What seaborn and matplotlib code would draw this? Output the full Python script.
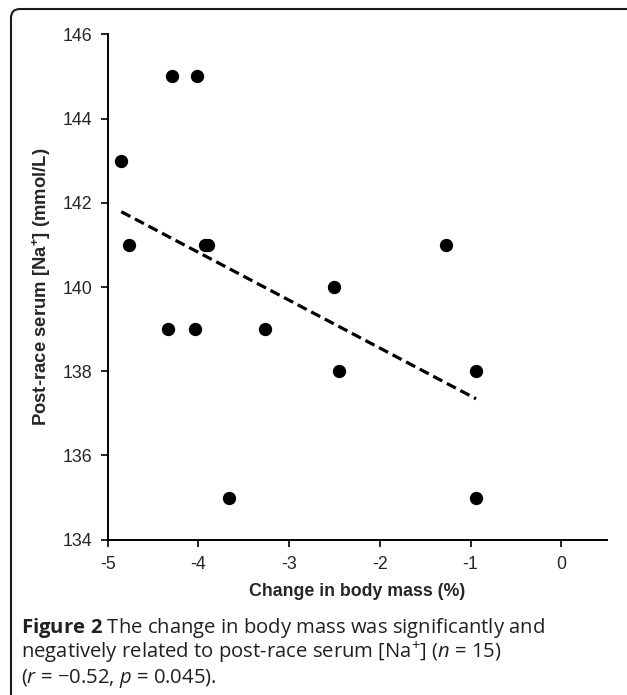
import numpy as np
import pandas as pd
import matplotlib
matplotlib.use("Agg")
import matplotlib.pyplot as plt
import seaborn as sns
from matplotlib.patches import FancyBboxPatch
from matplotlib.transforms import IdentityTransform

# values
mass_change = [-4.85, -4.76, -4.29, -4.02, -3.93, -3.89, -4.33, -4.04,
               -3.66, -3.27, -2.45, -0.94, -0.94, -1.27, -2.51]
serum_na = [143, 141, 145, 145, 141, 141, 139, 139,
            135, 139, 138, 138, 135, 141, 140]
x_ticks = [-5, -4, -3, -2, -1, 0]
y_ticks = [134, 136, 138, 140, 142, 144, 146]

df = pd.DataFrame({"mass": mass_change, "na": serum_na})

sns.set_style("ticks")
plt.rcParams["font.family"] = ["Liberation Sans", "DejaVu Sans"]
plt.rcParams["mathtext.fontset"] = "custom"
plt.rcParams["mathtext.rm"] = "Open Sans"
plt.rcParams["mathtext.it"] = "Open Sans:italic"
plt.rcParams["mathtext.bf"] = "Open Sans:bold"

W, H = 627, 695
fig = plt.figure(figsize=(W / 100, H / 100), dpi=100)
ax = fig.add_axes([107.7 / W, 1 - 539.7 / H, (606.7 - 107.7) / W, (539.7 - 34.3) / H])

sns.regplot(data=df, x="mass", y="na", ax=ax, ci=None, truncate=True,
            scatter_kws={"s": 92, "color": "black", "linewidths": 0, "alpha": 1},
            line_kws={"color": "black", "lw": 2.3, "ls": (0, (3.2, 1.6))})

ax.set_xlim(-5, 0.5)
ax.set_ylim(134, 146)
ax.set_xticks(x_ticks)
ax.set_yticks(y_ticks)
ax.set_xticklabels([str(v) for v in x_ticks])
sns.despine(ax=ax)
for s in ["left", "bottom"]:
    ax.spines[s].set_linewidth(1.4)
    ax.spines[s].set_color("black")
ax.tick_params(axis="both", labelsize=12.8, width=1.2, length=5, color="black", pad=7)
ax.tick_params(axis="y", length=5, pad=6)

ax.set_xlabel("Change in body mass (%)", fontsize=12.8, fontweight="bold", labelpad=7)
ax.set_ylabel(r"Post-race serum [Na$^{\mathbf{+}}$] (mmol/L)", fontsize=13.3,
              fontweight="bold", labelpad=7)

# caption below the chart
cap = dict(fontsize=14.6, color="#231f20", family=["Open Sans", "DejaVu Sans"], va="baseline")
fig.text(21 / W, 1 - 633 / H,
         r"$\mathbf{Figure\ 2}$ The change in body mass was significantly and", **cap)
fig.text(21 / W, 1 - 658 / H,
         r"negatively related to post-race serum [Na$^{+}$] ($n$ = 15)", **cap)
fig.text(21 / W, 1 - 683 / H, r"($r$ = −0.52, $p$ = 0.045).", **cap)

# rounded frame, open towards right and bottom
frame = FancyBboxPatch((11, -40), 660, H - 9 + 40,
                       boxstyle="round,pad=0,rounding_size=9",
                       transform=IdentityTransform(), fill=False,
                       edgecolor="#1a1a1a", lw=1.5)
fig.add_artist(frame)

fig.savefig("out.png", dpi=100)
